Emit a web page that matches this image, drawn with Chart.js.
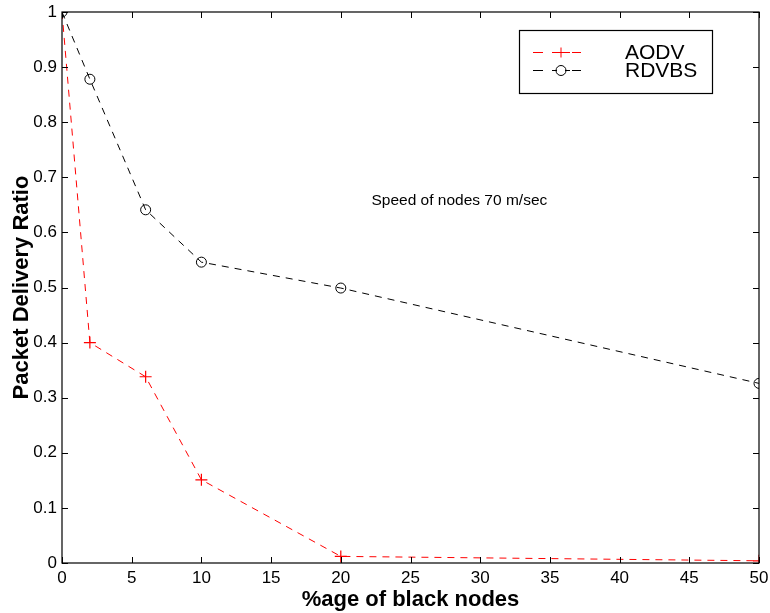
<!DOCTYPE html>
<html>
<head>
<meta charset="utf-8">
<script src="https://cdn.jsdelivr.net/npm/chart.js@4/dist/chart.umd.min.js"></script>
<style>
  html, body { margin:0; padding:0; background:#fff; }
  #wrap { width:770px; height:613px; }
</style>
</head>
<body>
<div id="wrap"><canvas id="c" width="770" height="613"></canvas></div>
<script>
// data
const blackNodes = [0, 2, 6, 10, 20, 50];
const aodv  = [1.0, 0.40, 0.338, 0.151, 0.012, 0.004];
const rdvbs = [1.0, 0.878, 0.641, 0.546, 0.499, 0.326];
const xTicks = [0, 5, 10, 15, 20, 25, 30, 35, 40, 45, 50];
const yTicks = [0, 0.1, 0.2, 0.3, 0.4, 0.5, 0.6, 0.7, 0.8, 0.9, 1];
const note = {x: 22.2, y: 0.657, text: 'Speed of nodes 70 m/sec'};

const FONT = '"Liberation Sans", Arial, Helvetica, sans-serif';

function pts(ys){ return blackNodes.map((x,i)=>({x, y: ys[i]})) }

// MATLAB-ish box, inward ticks, note text and legend
const boxPlugin = {
  id: 'box',
  afterDraw(chart){
    const {ctx, chartArea:a, scales:{x, y}} = chart;
    ctx.save();
    ctx.strokeStyle = '#000'; ctx.lineWidth = 1.2;
    ctx.strokeRect(a.left, a.top, a.right-a.left, a.bottom-a.top);
    ctx.lineWidth = 1;
    const t = 6;
    xTicks.forEach(v=>{
      const px = Math.round(x.getPixelForValue(v))+0.5;
      ctx.beginPath(); ctx.moveTo(px, a.bottom); ctx.lineTo(px, a.bottom-t);
      ctx.moveTo(px, a.top); ctx.lineTo(px, a.top+t); ctx.stroke();
    });
    yTicks.forEach(v=>{
      const py = Math.round(y.getPixelForValue(v))+0.5;
      ctx.beginPath(); ctx.moveTo(a.left, py); ctx.lineTo(a.left+t, py);
      ctx.moveTo(a.right, py); ctx.lineTo(a.right-t, py); ctx.stroke();
    });
    // note
    ctx.fillStyle = '#000'; ctx.font = '15.5px ' + FONT;
    ctx.textAlign = 'left'; ctx.textBaseline = 'middle';
    ctx.fillText(note.text, x.getPixelForValue(note.x), y.getPixelForValue(note.y));
    // legend
    const lx = 519, ly = 30, lw = 193, lh = 63;
    ctx.fillStyle = '#fff'; ctx.fillRect(lx, ly, lw, lh);
    ctx.strokeStyle = '#000'; ctx.lineWidth = 1.2; ctx.strokeRect(lx+0.5, ly+0.5, lw, lh);
    chart.data.datasets.forEach((ds, i)=>{
      const cy = ly + 22.5 + i*18;
      ctx.strokeStyle = ds.borderColor; ctx.lineWidth = 1;
      ctx.beginPath();
      [[14,24],[33,38],[46,51],[53,62]].forEach(s=>{ ctx.moveTo(lx+s[0], cy); ctx.lineTo(lx+s[1], cy); });
      if(ds.pointStyle === 'cross'){
        ctx.moveTo(lx+37, cy); ctx.lineTo(lx+47, cy);
        ctx.moveTo(lx+42, cy-5); ctx.lineTo(lx+42, cy+5);
      } else {
        ctx.moveTo(lx+47, cy); ctx.arc(lx+42, cy, 5, 0, Math.PI*2);
      }
      ctx.stroke();
      ctx.fillStyle = '#000'; ctx.font = '21px ' + FONT;
      ctx.textAlign = 'left'; ctx.textBaseline = 'middle';
      ctx.fillText(ds.label, lx+106, cy+1);
    });
    ctx.restore();
  }
};

new Chart(document.getElementById('c'), {
  type: 'line',
  data: {
    datasets: [
      { label: 'AODV', data: pts(aodv), borderColor: '#ff0000', borderWidth: 1,
        borderDash: [7, 6], pointStyle: 'cross', pointRadius: 6, pointBorderWidth: 1.2,
        pointBorderColor: '#ff0000', backgroundColor: '#ff0000', tension: 0 },
      { label: 'RDVBS', data: pts(rdvbs), borderColor: '#000000', borderWidth: 1,
        borderDash: [7, 6], pointStyle: 'circle', pointRadius: 5, pointBorderWidth: 1,
        pointBorderColor: '#000', pointBackgroundColor: 'rgba(0,0,0,0)', tension: 0 }
    ]
  },
  options: {
    responsive: false, animation: false,
    layout: { padding: { top: 12, right: 11, left: 0, bottom: 0 } },
    plugins: { legend: { display: false }, tooltip: { enabled: false } },
    scales: {
      x: {
        type: 'linear', min: 0, max: 50,
        afterBuildTicks: s => { s.ticks = xTicks.map(v=>({value:v})) },
        afterFit: s => { s.height = 50; s.paddingLeft = 0; s.paddingRight = 0 },
        grid: { display: false, drawTicks: false },
        border: { display: false },
        ticks: { color: '#000', font: { family: FONT, size: 17 }, padding: 5, maxRotation: 0 },
        title: { display: true, text: '%age of black nodes', color: '#000',
                 font: { family: FONT, size: 22, weight: 'bold' }, padding: { top: 0, bottom: 0 } }
      },
      y: {
        type: 'linear', min: 0, max: 1,
        afterBuildTicks: s => { s.ticks = yTicks.map(v=>({value:v})) },
        afterFit: s => { s.width = 62; s.paddingTop = 0; s.paddingBottom = 0 },
        grid: { display: false, drawTicks: false },
        border: { display: false },
        ticks: { color: '#000', font: { family: FONT, size: 17 }, padding: 5,
                 callback: v => String(Math.round(v*10)/10) },
        title: { display: true, text: 'Packet Delivery Ratio', color: '#000',
                 font: { family: FONT, size: 22, weight: 'bold' }, padding: { top: 9, bottom: 0 } }
      }
    }
  },
  plugins: [boxPlugin]
});
</script>
</body>
</html>
